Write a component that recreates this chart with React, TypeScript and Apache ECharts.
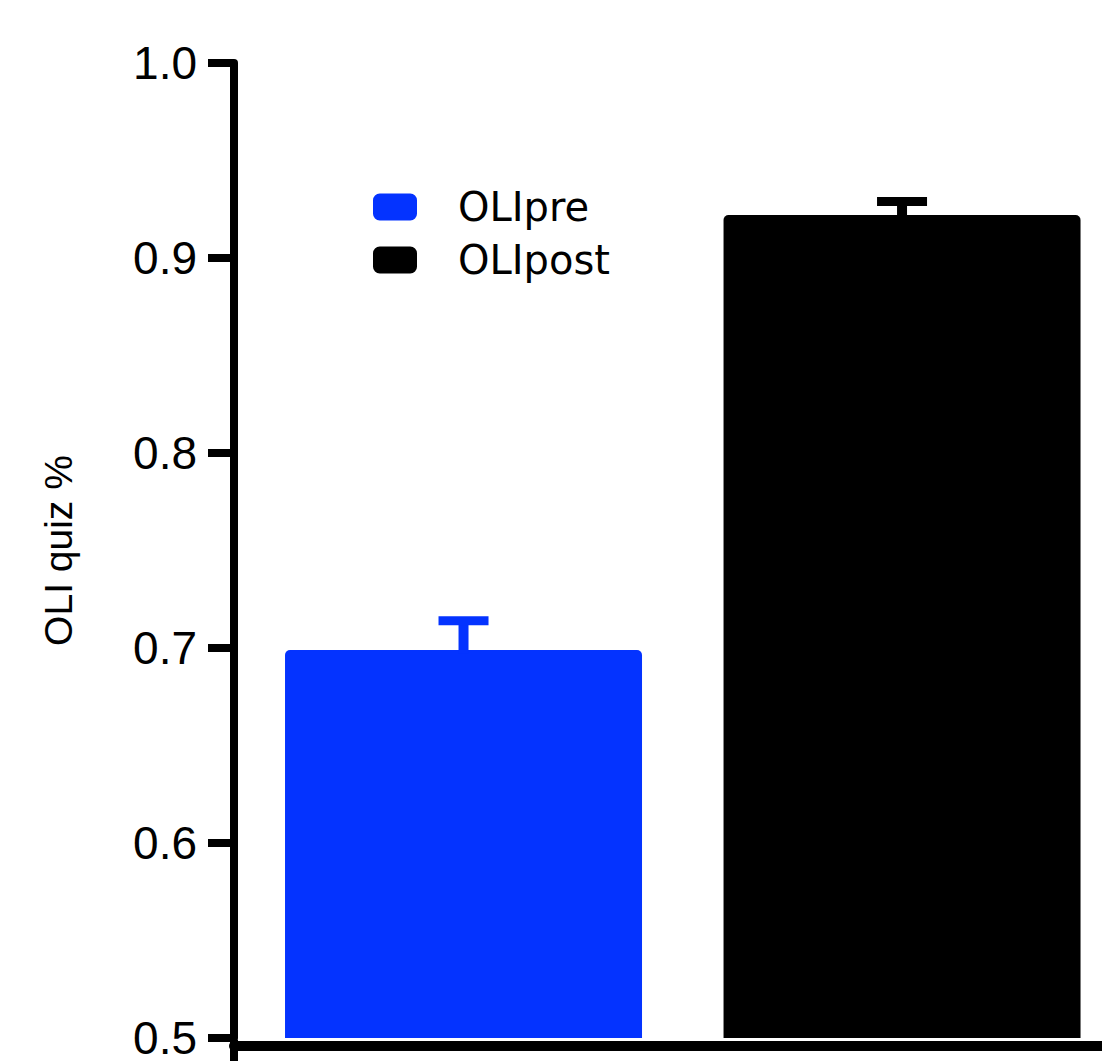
import React, { useEffect, useRef } from "react";
import * as echarts from "echarts";

const categories = ["OLIpre", "OLIpost"];
const positions = [1, 2];
const means = [0.699, 0.922];
const errorTops = [0.714, 0.929];
const colors = ["#0433FF", "#000000"];
const yTicks = [0.5, 0.6, 0.7, 0.8, 0.9, 1.0];

export default function App() {
  const ref = useRef<HTMLDivElement>(null);
  useEffect(() => {
    if (!ref.current) return;
    const chart = echarts.init(ref.current, null, { renderer: "svg" });
    const barSeries = categories.map((name, i) => ({
      name,
      type: "bar",
      data: [[positions[i], means[i]]],
      barWidth: 357,
      barGap: "-100%",
      itemStyle: { color: colors[i], borderRadius: [5, 5, 0, 0] },
      z: 2,
    }));
    const errData = categories.map((_, i) => [positions[i], means[i], errorTops[i], i]);
    chart.setOption({
      animation: false,
      backgroundColor: "#ffffff",
      grid: { left: 234, right: 0, top: 63, bottom: 20 },
      legend: {
        data: categories,
        orient: "vertical",
        left: 368,
        top: 182,
        icon: "roundRect",
        itemWidth: 44,
        itemHeight: 27,
        itemGap: 13,
        textStyle: {
          fontFamily: "DejaVu Sans",
          fontSize: 40,
          color: "#000",
          padding: [0, 0, 0, 36],
        },
      },
      xAxis: {
        type: "value",
        min: 0.4766,
        max: 2.456,
        offset: 8,
        axisLine: { show: true, lineStyle: { color: "#000", width: 10 } },
        axisTick: { show: false },
        axisLabel: { show: false },
        splitLine: { show: false },
      },
      yAxis: {
        type: "value",
        min: yTicks[0],
        max: yTicks[yTicks.length - 1],
        interval: 0.1,
        name: "OLI quiz %",
        nameLocation: "middle",
        nameRotate: 90,
        nameGap: 156,
        nameTextStyle: { fontFamily: "Liberation Sans", fontSize: 39, color: "#000" },
        axisLine: { show: true, lineStyle: { color: "#000", width: 8 } },
        axisTick: { show: true, length: 26, lineStyle: { color: "#000", width: 8 } },
        axisLabel: {
          margin: 37,
          fontFamily: "Liberation Sans",
          fontSize: 46,
          color: "#000",
          formatter: (v: number) => v.toFixed(1),
        },
        splitLine: { show: false },
      },
      graphic: [
        {
          type: "line",
          shape: { x1: 234, y1: 1040, x2: 234, y2: 1061 },
          style: { stroke: "#000", lineWidth: 8 },
        },
      ],
      series: [
        ...barSeries,
        {
          type: "custom",
          name: "error",
          data: errData,
          z: 3,
          clip: false,
          encode: { x: 0, y: [1, 2] },
          renderItem: (params: any, api: any) => {
            const x = api.value(0);
            const base = api.coord([x, api.value(1)]);
            const top = api.coord([x, api.value(2)]);
            const idx = api.value(3);
            const color = colors[idx];
            const half = 25;
            return {
              type: "group",
              children: [
                {
                  type: "line",
                  shape: { x1: base[0], y1: base[1] + 4, x2: top[0], y2: top[1] },
                  style: { stroke: color, lineWidth: 10 },
                },
                {
                  type: "line",
                  shape: { x1: top[0] - half, y1: top[1], x2: top[0] + half, y2: top[1] },
                  style: { stroke: color, lineWidth: 9 },
                },
              ],
            };
          },
        },
      ],
    });
    return () => chart.dispose();
  }, []);
  return (
    <div
      ref={ref}
      style={{ position: "absolute", left: 0, top: 0, width: 1102, height: 1061 }}
    />
  );
}
